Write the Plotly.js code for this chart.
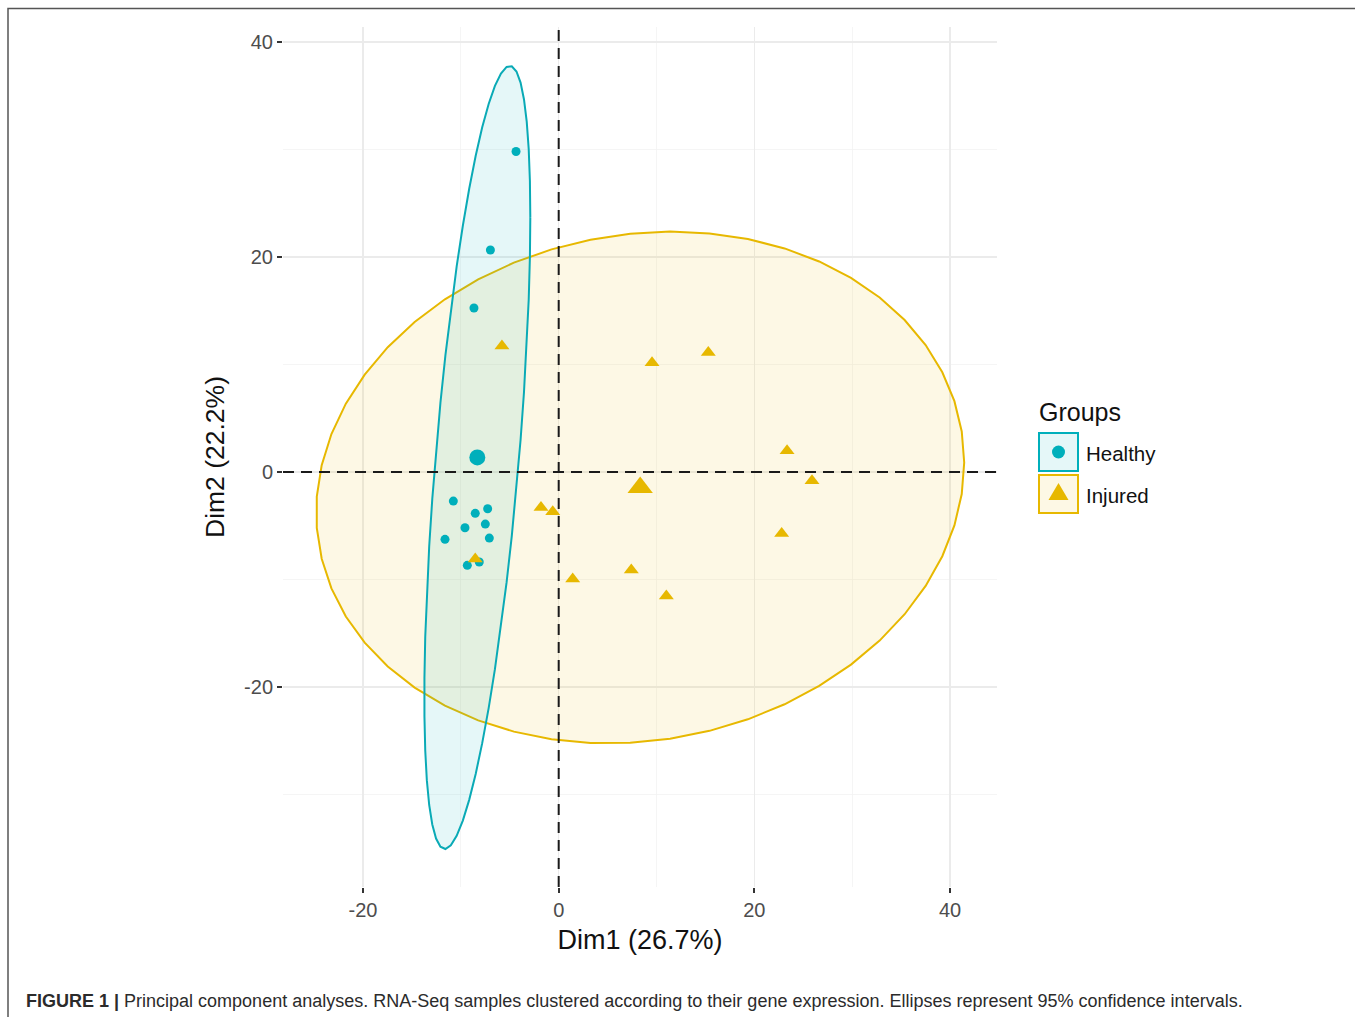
<!DOCTYPE html>
<html>
<head>
<meta charset="utf-8">
<script src="https://cdn.plot.ly/plotly-3.0.1.min.js"></script>
<style>
  html, body { margin: 0; padding: 0; background: #ffffff; }
  #chart { width: 1355px; height: 1017px; }
</style>
</head>
<body>
<div id="chart"></div>
<script>
// ---- Data ----
const groupNames = ['Healthy', 'Injured'];
const healthyX = [-4.36, -6.98, -8.66, -10.77, -8.53, -7.26, -7.50, -9.58, -11.62, -7.09, -9.34, -8.12];
const healthyY = [29.82, 20.66, 15.26, -2.70, -3.84, -3.41, -4.84, -5.18, -6.26, -6.14, -8.68, -8.37];
const injuredX = [9.54, 15.29, 23.34, 25.89, 22.79, -1.81, -0.61, 1.43, 7.42, 11.00, -5.80, -8.53];
const injuredY = [10.17, 11.13, 1.98, -0.81, -5.71, -3.29, -3.69, -9.95, -9.12, -11.53, 11.72, -8.09];
const xTickVals = [-20, 0, 20, 40];
const xTickText = ['-20', '0', '20', '40'];
const yTickVals = [-20, 0, 20, 40];
const yTickText = ['-20', '0', '20', '40'];
const xTitle = 'Dim1 (26.7%)';
const yTitle = 'Dim2 (22.2%)';
const legendTitle = 'Groups';
const ellipseLevel = 0.95;
const captionBold = 'FIGURE 1 |';
const captionText = ' Principal component analyses. RNA-Seq samples clustered according to their gene expression. Ellipses represent 95% confidence intervals.';

// ---- Styling ----
const teal = '#00AFBB';
const gold = '#E7B800';
const tealFill = 'rgba(0,175,187,0.10)';
const goldFill = 'rgba(231,184,0,0.10)';
const FONT = '"Liberation Sans", Arial, Helvetica, sans-serif';

// ---- Helpers: normal-theory 95% ellipse (as in ggplot stat_ellipse type="norm") ----
function mean(a) { return a.reduce((s, v) => s + v, 0) / a.length; }
function ellipse(xs, ys, level, segments) {
  const n = xs.length, mx = mean(xs), my = mean(ys);
  let sxx = 0, syy = 0, sxy = 0;
  for (let i = 0; i < n; i++) {
    sxx += (xs[i] - mx) ** 2; syy += (ys[i] - my) ** 2; sxy += (xs[i] - mx) * (ys[i] - my);
  }
  sxx /= (n - 1); syy /= (n - 1); sxy /= (n - 1);
  const r11 = Math.sqrt(sxx), r12 = sxy / r11, r22 = Math.sqrt(syy - r12 * r12);
  const d = n - 1;
  const qf = (d / 2) * (Math.pow(1 - level, -2 / d) - 1); // F(2,d) quantile
  const radius = Math.sqrt(2 * qf);
  const ex = [], ey = [];
  for (let k = 0; k <= segments; k++) {
    const a = 2 * Math.PI * k / segments;
    const c = Math.cos(a), s = Math.sin(a);
    ex.push(mx + radius * c * r11);
    ey.push(my + radius * (c * r12 + s * r22));
  }
  return { x: ex, y: ey };
}

const eH = ellipse(healthyX, healthyY, ellipseLevel, 51);
const eI = ellipse(injuredX, injuredY, ellipseLevel, 51);

const traces = [
  { type: 'scatter', mode: 'lines', x: eI.x, y: eI.y, fill: 'toself', fillcolor: goldFill,
    line: { color: gold, width: 2 }, hoverinfo: 'skip', showlegend: false },
  { type: 'scatter', mode: 'lines', x: eH.x, y: eH.y, fill: 'toself', fillcolor: tealFill,
    line: { color: '#0AAAB6', width: 2 }, hoverinfo: 'skip', showlegend: false },
  { type: 'scatter', mode: 'markers', x: healthyX, y: healthyY, name: groupNames[0],
    marker: { symbol: 'circle', size: 9, color: teal }, showlegend: false },
  { type: 'scatter', mode: 'markers', x: injuredX, y: injuredY, name: groupNames[1],
    marker: { symbol: 'triangle-up', size: 13, color: gold }, showlegend: false },
  { type: 'scatter', mode: 'markers', x: [mean(healthyX)], y: [mean(healthyY)],
    marker: { symbol: 'circle', size: 16, color: teal }, showlegend: false },
  { type: 'scatter', mode: 'markers', x: [mean(injuredX)], y: [mean(injuredY)],
    marker: { symbol: 'triangle-up', size: 22, color: gold }, showlegend: false }
];

// plot area in pixels: left 283, right 997, top 27, bottom 887
const L = 283, R = 997, T = 27, B = 887;
const fx = px => (px - L) / (R - L);
const fy = py => (B - py) / (B - T);

const dashStyle = { color: '#1a1a1a', width: 2, dash: '11px,7px' };

const shapes = [
  { type: 'line', xref: 'x', yref: 'paper', x0: 0, x1: 0, y0: 0, y1: 1, line: dashStyle, layer: 'above' },
  { type: 'line', xref: 'paper', yref: 'y', x0: 0, x1: 1, y0: 0, y1: 0, line: dashStyle, layer: 'above' },
  // figure frame
  { type: 'rect', xref: 'paper', yref: 'paper', x0: fx(8), x1: fx(1362), y0: fy(1040), y1: fy(8.5),
    line: { color: '#555555', width: 1.5 }, fillcolor: 'rgba(0,0,0,0)' },
  // legend keys
  { type: 'rect', xref: 'paper', yref: 'paper', x0: fx(1039), x1: fx(1078), y0: fy(471), y1: fy(433),
    line: { color: teal, width: 2 }, fillcolor: tealFill },
  { type: 'rect', xref: 'paper', yref: 'paper', x0: fx(1039), x1: fx(1078), y0: fy(513), y1: fy(475),
    line: { color: gold, width: 2 }, fillcolor: goldFill },
  { type: 'circle', xref: 'paper', yref: 'paper', xsizemode: 'pixel', ysizemode: 'pixel',
    xanchor: fx(1058.5), yanchor: fy(452), x0: -6.5, x1: 6.5, y0: -6.5, y1: 6.5,
    line: { width: 0 }, fillcolor: teal },
  { type: 'path', xref: 'paper', yref: 'paper', xsizemode: 'pixel', ysizemode: 'pixel',
    xanchor: fx(1058.5), yanchor: fy(494), path: 'M-10,-6 L10,-6 L0,11 Z',
    line: { width: 0 }, fillcolor: gold }
];

const annotations = [
  { xref: 'paper', yref: 'paper', x: fx(1037), y: fy(412), xanchor: 'left', yanchor: 'middle',
    text: legendTitle, showarrow: false, font: { family: FONT, size: 25, color: '#111111' } },
  { xref: 'paper', yref: 'paper', x: fx(1084), y: fy(453), xanchor: 'left', yanchor: 'middle',
    text: groupNames[0], showarrow: false, font: { family: FONT, size: 20.5, color: '#111111' } },
  { xref: 'paper', yref: 'paper', x: fx(1084), y: fy(495), xanchor: 'left', yanchor: 'middle',
    text: groupNames[1], showarrow: false, font: { family: FONT, size: 20.5, color: '#111111' } },
  { xref: 'paper', yref: 'paper', x: fx(24), y: fy(1001), xanchor: 'left', yanchor: 'middle',
    text: '<b>' + captionBold + '</b>' + captionText, showarrow: false,
    font: { family: FONT, size: 18, color: '#2b2b2b' } }
];

const axisCommon = {
  showgrid: true, gridcolor: '#ebebeb', gridwidth: 1.3,
  zeroline: false, showline: false,
  ticks: 'outside', ticklen: 5, tickwidth: 2, tickcolor: '#333333',
  tickfont: { family: FONT, size: 20, color: '#4d4d4d' },
  tickmode: 'array'
};

const layout = {
  width: 1355, height: 1017,
  margin: { l: L, r: 1355 - R, t: T, b: 1017 - B },
  paper_bgcolor: '#ffffff', plot_bgcolor: '#ffffff',
  font: { family: FONT },
  showlegend: false,
  hovermode: false,
  xaxis: Object.assign({}, axisCommon, {
    range: [-28.18, 44.80], tickvals: xTickVals, ticktext: xTickText,
    minor: { tickmode: 'array', tickvals: [-10, 10, 30], showgrid: true, gridcolor: '#f2f2f2', gridwidth: 0.8, ticks: '' },
    title: { text: xTitle, font: { family: FONT, size: 27, color: '#111111' }, standoff: 10 }
  }),
  yaxis: Object.assign({}, axisCommon, {
    range: [-38.6, 41.4], tickvals: yTickVals, ticktext: yTickText,
    minor: { tickmode: 'array', tickvals: [-30, -10, 10, 30], showgrid: true, gridcolor: '#f2f2f2', gridwidth: 0.8, ticks: '' },
    title: { text: yTitle, font: { family: FONT, size: 26.5, color: '#111111' }, standoff: 11 }
  }),
  shapes: shapes,
  annotations: annotations
};

Plotly.newPlot('chart', traces, layout, { staticPlot: true, displayModeBar: false });
</script>
</body>
</html>
